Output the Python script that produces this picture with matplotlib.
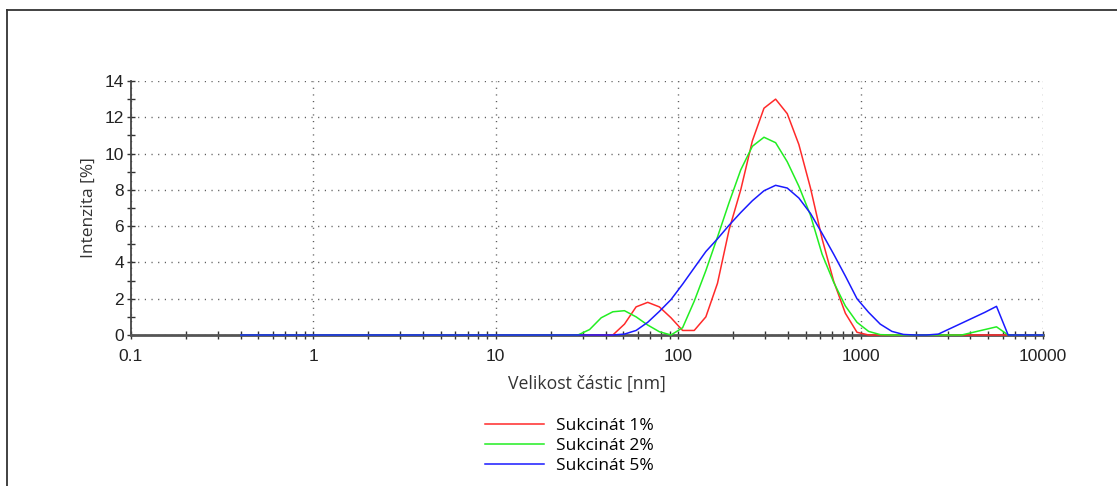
import matplotlib.pyplot as plt
from matplotlib.lines import Line2D
from matplotlib.ticker import MultipleLocator, LogLocator, NullFormatter

# velikostní třídy přístroje (nm), 70 logaritmických tříd
sizes = [0.4, 0.4632, 0.5365, 0.6213, 0.7195, 0.8332, 0.9649, 1.117, 1.294, 1.499,
         1.736, 2.01, 2.328, 2.696, 3.122, 3.615, 4.187, 4.849, 5.615, 6.503,
         7.531, 8.721, 10.1, 11.7, 13.54, 15.69, 18.17, 21.04, 24.36, 28.21,
         32.67, 37.84, 43.82, 50.75, 58.77, 68.06, 78.82, 91.28, 105.7, 122.4,
         141.8, 164.2, 190.1, 220.2, 255.0, 295.3, 342.0, 396.1, 458.7, 531.2,
         615.1, 712.4, 825.0, 955.4, 1106, 1281, 1484, 1718, 1990, 2305,
         2669, 3091, 3580, 4145, 4801, 5560, 6439, 7456, 8635, 10000]

# intenzita [%]
sukcinat_1 = [0, 0, 0, 0, 0, 0, 0, 0, 0, 0,
              0, 0, 0, 0, 0, 0, 0, 0, 0, 0,
              0, 0, 0, 0, 0, 0, 0, 0, 0, 0,
              0, 0, 0, 0.6, 1.55, 1.8, 1.55, 0.95, 0.25, 0.25,
              1.0, 2.85, 5.8, 8.0, 10.7, 12.5, 13.0, 12.2, 10.5, 8.1,
              5.3, 2.95, 1.2, 0.15, 0, 0, 0, 0, 0, 0,
              0, 0, 0, 0, 0, 0, 0, 0, 0, 0]
sukcinat_2 = [0, 0, 0, 0, 0, 0, 0, 0, 0, 0,
              0, 0, 0, 0, 0, 0, 0, 0, 0, 0,
              0, 0, 0, 0, 0, 0, 0, 0, 0, 0,
              0.3, 0.95, 1.28, 1.34, 1.0, 0.55, 0.18, 0, 0.4, 1.86,
              3.55, 5.4, 7.3, 9.1, 10.4, 10.9, 10.6, 9.55, 8.2, 6.6,
              4.45, 2.9, 1.6, 0.7, 0.2, 0.02, 0, 0, 0, 0,
              0, 0, 0, 0.15, 0.3, 0.45, 0, 0, 0, 0]
sukcinat_5 = [0, 0, 0, 0, 0, 0, 0, 0, 0, 0,
              0, 0, 0, 0, 0, 0, 0, 0, 0, 0,
              0, 0, 0, 0, 0, 0, 0, 0, 0, 0,
              0, 0, 0, 0.05, 0.25, 0.7, 1.3, 1.95, 2.8, 3.7,
              4.6, 5.3, 6.05, 6.75, 7.4, 7.95, 8.25, 8.1, 7.55, 6.7,
              5.6, 4.45, 3.25, 2.0, 1.25, 0.6, 0.2, 0.03, 0, 0,
              0.05, 0.35, 0.65, 0.95, 1.25, 1.58, 0, 0, 0, 0]

series = [sukcinat_1, sukcinat_2, sukcinat_5]
labels = ['Sukcinát 1%', 'Sukcinát 2%', 'Sukcinát 5%']
colors = ['#ff2a2a', '#22ee22', '#1a1aff']

x_ticks = [0.1, 1, 10, 100, 1000, 10000]
x_tick_labels = ['0.1', '1', '10', '100', '1000', '10000']

fig = plt.figure(figsize=(11.17, 4.86), dpi=100)
ax = fig.add_axes([131 / 1117, 151 / 486, 912 / 1117, 254 / 486])

for y, c, lab in zip(series, colors, labels):
    ax.plot(sizes, y, color=c, lw=1.1, label=lab, clip_on=False, zorder=3)

ax.set_xscale('log')
ax.set_xlim(0.1, 10000)
ax.set_ylim(0, 14)
ax.set_xticks(x_ticks, x_tick_labels)
ax.xaxis.set_minor_locator(LogLocator(base=10, subs=range(2, 10)))
ax.xaxis.set_minor_formatter(NullFormatter())
ax.yaxis.set_major_locator(MultipleLocator(2))
ax.yaxis.set_minor_locator(MultipleLocator(1))

ax.tick_params(which='both', direction='inout', length=6, width=1, color='#333')
ax.tick_params(axis='x', which='major', pad=7)
ax.tick_params(axis='y', which='major', pad=2)
for t in ax.get_xticklabels() + ax.get_yticklabels():
    t.set_fontfamily('Liberation Sans')
    t.set_fontsize(12.5)
    t.set_color('#222')

ax.grid(which='major', linestyle=(0, (0.8, 4)), color='#555', lw=1)
ax.spines['top'].set_visible(False)
ax.spines['right'].set_visible(False)
ax.spines['left'].set_color('#444')
ax.spines['bottom'].set_color('#555')
ax.spines['left'].set_linewidth(1.3)
ax.spines['bottom'].set_linewidth(2)

ax.set_xlabel('Velikost částic [nm]', fontfamily='Open Sans', fontsize=12.7, color='#333', labelpad=8)
ax.set_ylabel('Intenzita [%]', fontfamily='Open Sans', fontsize=12.5, color='#333', labelpad=6)

fig.legend(loc='upper left', bbox_to_anchor=(485 / 1117, 1 - 418 / 486),
           frameon=False, handlelength=3.4, handletextpad=0.7, labelspacing=0.22,
           borderpad=0, borderaxespad=0,
           prop={'family': 'Open Sans', 'size': 12.5})

# rámeček okna
fig.add_artist(Line2D([7 / 1117, 1], [1 - 10.5 / 486] * 2, transform=fig.transFigure,
                      color='#333', lw=1.3))
fig.add_artist(Line2D([7 / 1117] * 2, [0, 1 - 10.5 / 486], transform=fig.transFigure,
                      color='#333', lw=1.3))

fig.savefig('out.png', dpi=100)
